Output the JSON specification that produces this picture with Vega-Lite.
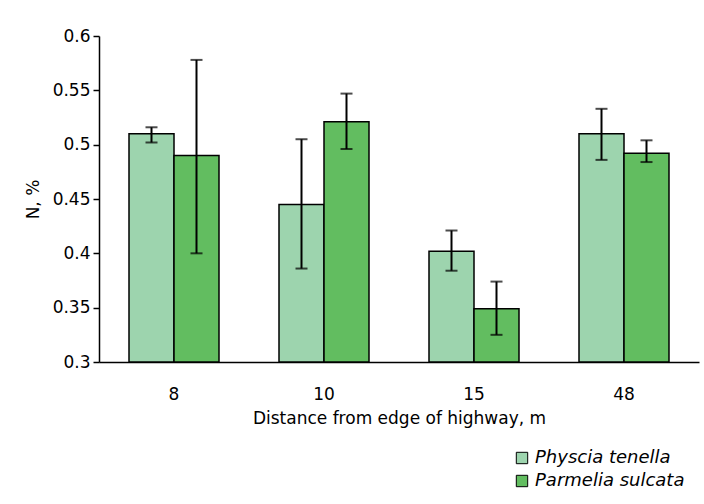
{
  "$schema": "https://vega.github.io/schema/vega-lite/v6.json",
  "autosize": "none",
  "width": 600,
  "height": 326,
  "padding": {"left": 99, "top": 36, "right": 5, "bottom": 142},
  "background": "white",
  "config": {
    "view": {"stroke": null},
    "font": "DejaVu Sans",
    "axis": {"labelFont": "DejaVu Sans", "titleFont": "DejaVu Sans", "labelColor": "black", "titleColor": "black", "domainColor": "black", "tickColor": "black", "titleFontWeight": "normal", "grid": false}
  },
  "data": {
    "values": [
      {"distance": "8", "species": "Physcia tenella", "value": 0.510, "lo": 0.502, "hi": 0.516},
      {"distance": "8", "species": "Parmelia sulcata", "value": 0.490, "lo": 0.400, "hi": 0.578},
      {"distance": "10", "species": "Physcia tenella", "value": 0.445, "lo": 0.386, "hi": 0.505},
      {"distance": "10", "species": "Parmelia sulcata", "value": 0.521, "lo": 0.496, "hi": 0.547},
      {"distance": "15", "species": "Physcia tenella", "value": 0.402, "lo": 0.384, "hi": 0.421},
      {"distance": "15", "species": "Parmelia sulcata", "value": 0.349, "lo": 0.325, "hi": 0.374},
      {"distance": "48", "species": "Physcia tenella", "value": 0.510, "lo": 0.486, "hi": 0.533},
      {"distance": "48", "species": "Parmelia sulcata", "value": 0.492, "lo": 0.484, "hi": 0.504}
    ]
  },
  "encoding": {
    "x": {
      "field": "distance", "type": "nominal", "sort": ["8", "10", "15", "48"],
      "scale": {"paddingInner": 0.4, "paddingOuter": 0.2},
      "axis": {"title": "Distance from edge of highway, m", "labelAngle": 0, "ticks": false, "tickSize": 0, "labelPadding": 24, "labelFontSize": 17, "titleFontSize": 17, "titlePadding": 8, "domainWidth": 1.5}
    },
    "xOffset": {"field": "species", "type": "nominal", "sort": ["Physcia tenella", "Parmelia sulcata"]}
  },
  "layer": [
    {
      "mark": {"type": "bar", "stroke": "black", "strokeWidth": 1.5, "clip": true},
      "encoding": {
        "y": {
          "field": "value", "type": "quantitative",
          "scale": {"domain": [0.3, 0.6], "zero": false, "nice": false},
          "axis": {"title": "N, %", "values": [0.3, 0.35, 0.4, 0.45, 0.5, 0.55, 0.6], "format": ".2~f", "labelFontSize": 17, "titleFontSize": 17, "tickSize": 6, "labelPadding": 3, "titlePadding": 10, "domainWidth": 1.5, "tickWidth": 1.5}
        },
        "y2": {"datum": 0.3},
        "color": {
          "field": "species", "type": "nominal", "sort": ["Physcia tenella", "Parmelia sulcata"],
          "scale": {"domain": ["Physcia tenella", "Parmelia sulcata"], "range": ["#9dd4ae", "#62bd60"]},
          "legend": {"title": null, "orient": "none", "legendX": 414, "legendY": 413, "symbolType": "square", "symbolSize": 130, "symbolStrokeColor": "black", "symbolStrokeWidth": 1, "symbolOpacity": 1, "labelFontSize": 18, "labelFontStyle": "italic", "labelColor": "black", "labelFont": "DejaVu Sans", "rowPadding": 5, "labelOffset": 4}
        }
      }
    },
    {
      "mark": {"type": "rule", "color": "black", "strokeWidth": 2},
      "encoding": {
        "y": {"field": "lo", "type": "quantitative"},
        "y2": {"field": "hi"}
      }
    },
    {
      "mark": {"type": "tick", "color": "black", "thickness": 2, "size": 12, "orient": "horizontal"},
      "encoding": {"y": {"field": "lo", "type": "quantitative"}}
    },
    {
      "mark": {"type": "tick", "color": "black", "thickness": 2, "size": 12, "orient": "horizontal"},
      "encoding": {"y": {"field": "hi", "type": "quantitative"}}
    }
  ]
}
